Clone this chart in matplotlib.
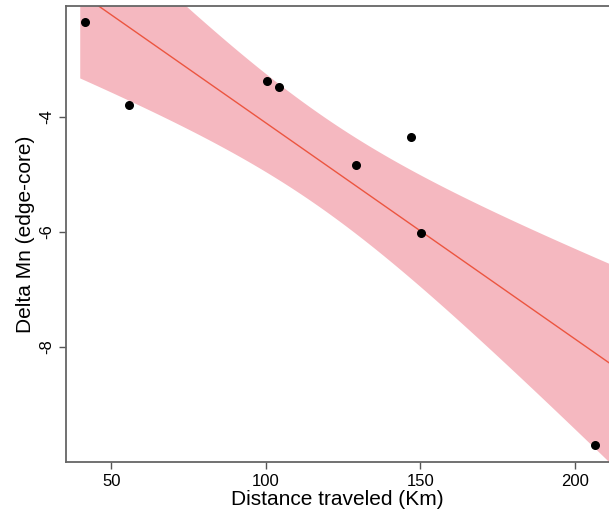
import numpy as np
import matplotlib
matplotlib.use("Agg")
import matplotlib.pyplot as plt

plt.rcParams['font.family'] = ['Liberation Sans', 'DejaVu Sans']

# distance traveled (km) and delta Mn (edge - core)
distance = [41.6, 55.8, 100.4, 104.3, 129.2, 147.0, 150.2, 206.5]
delta_mn = [-2.35, -3.79, -3.37, -3.48, -4.83, -4.35, -6.02, -9.70]

x_ticks = [50, 100, 150, 200]
y_ticks = [-4, -6, -8]

x = np.array(distance)
y = np.array(delta_mn)
n = len(x)

# linear fit with 95% confidence band (normal approximation)
slope, intercept = np.polyfit(x, y, 1)
resid = y - (slope * x + intercept)
s = np.sqrt(np.sum(resid ** 2) / (n - 2))
z = 1.96
xs = np.linspace(40, 212, 200)
fit = slope * xs + intercept
se = s * np.sqrt(1.0 / n + (xs - x.mean()) ** 2 / np.sum((x - x.mean()) ** 2))

fig = plt.figure(figsize=(6.09, 5.14), dpi=100)
ax = fig.add_axes([0.1084, 0.1012, 0.8916, 0.8871])

ax.fill_between(xs, fit - z * se, fit + z * se, color='#f5b8c0', linewidth=0)
ax.plot(xs, fit, color='#ec5540', linewidth=1.0)
ax.scatter(x, y, s=30, color='black', zorder=3)

ax.set_xlim(35.4, 211)
ax.set_ylim(-10.0, -2.07)
ax.set_xticks(x_ticks)
ax.set_yticks(y_ticks)
ax.set_yticklabels([str(v) for v in y_ticks], rotation=90, va='center')
ax.tick_params(direction='out', length=5, width=1, colors='#555555', labelcolor='black', labelsize=12)

for side in ['left', 'bottom', 'top']:
    ax.spines[side].set_color('#666666')
    ax.spines[side].set_linewidth(1.3)
ax.spines['right'].set_visible(False)

ax.set_xlabel('Distance traveled (Km)', fontsize=15, labelpad=1)
ax.set_ylabel('Delta Mn (edge-core)', fontsize=15, labelpad=3)

fig.savefig('out.png', dpi=100)
